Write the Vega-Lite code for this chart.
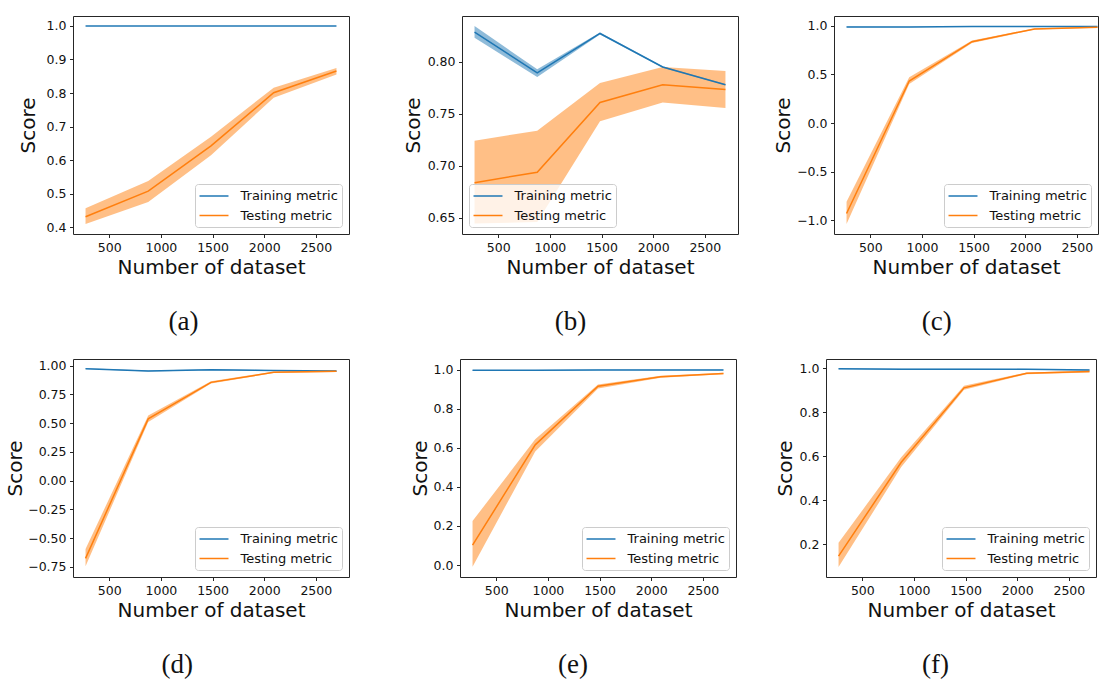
{
  "$schema": "https://vega.github.io/schema/vega-lite/v6.json",
  "background": "white",
  "padding": {"left": 5, "top": 15, "right": 0, "bottom": 0},
  "datasets": {
    "curves": [
      {"panel": "a", "series": "Training metric", "n": 270, "mean": 1.0, "lo": 1.0, "hi": 1.0},
      {"panel": "a", "series": "Training metric", "n": 877, "mean": 1.0, "lo": 1.0, "hi": 1.0},
      {"panel": "a", "series": "Training metric", "n": 1485, "mean": 1.0, "lo": 1.0, "hi": 1.0},
      {"panel": "a", "series": "Training metric", "n": 2092, "mean": 1.0, "lo": 1.0, "hi": 1.0},
      {"panel": "a", "series": "Training metric", "n": 2700, "mean": 1.0, "lo": 1.0, "hi": 1.0},
      {"panel": "a", "series": "Testing metric", "n": 270, "mean": 0.432, "lo": 0.410, "hi": 0.457},
      {"panel": "a", "series": "Testing metric", "n": 877, "mean": 0.508, "lo": 0.476, "hi": 0.538},
      {"panel": "a", "series": "Testing metric", "n": 1485, "mean": 0.643, "lo": 0.615, "hi": 0.670},
      {"panel": "a", "series": "Testing metric", "n": 2092, "mean": 0.801, "lo": 0.786, "hi": 0.816},
      {"panel": "a", "series": "Testing metric", "n": 2700, "mean": 0.866, "lo": 0.855, "hi": 0.875},

      {"panel": "b", "series": "Training metric", "n": 270, "mean": 0.8287, "lo": 0.8232, "hi": 0.8345},
      {"panel": "b", "series": "Training metric", "n": 877, "mean": 0.7894, "lo": 0.7855, "hi": 0.7929},
      {"panel": "b", "series": "Training metric", "n": 1485, "mean": 0.8274, "lo": 0.8265, "hi": 0.8283},
      {"panel": "b", "series": "Training metric", "n": 2092, "mean": 0.7952, "lo": 0.7945, "hi": 0.7959},
      {"panel": "b", "series": "Training metric", "n": 2700, "mean": 0.7781, "lo": 0.7775, "hi": 0.7787},
      {"panel": "b", "series": "Testing metric", "n": 270, "mean": 0.6839, "lo": 0.6445, "hi": 0.7242},
      {"panel": "b", "series": "Testing metric", "n": 877, "mean": 0.6939, "lo": 0.6460, "hi": 0.7339},
      {"panel": "b", "series": "Testing metric", "n": 1485, "mean": 0.7610, "lo": 0.7429, "hi": 0.7797},
      {"panel": "b", "series": "Testing metric", "n": 2092, "mean": 0.7781, "lo": 0.7610, "hi": 0.7952},
      {"panel": "b", "series": "Testing metric", "n": 2700, "mean": 0.7735, "lo": 0.7558, "hi": 0.7913},

      {"panel": "c", "series": "Training metric", "n": 270, "mean": 0.990, "lo": 0.987, "hi": 0.993},
      {"panel": "c", "series": "Training metric", "n": 877, "mean": 0.989, "lo": 0.986, "hi": 0.992},
      {"panel": "c", "series": "Training metric", "n": 1485, "mean": 0.993, "lo": 0.991, "hi": 0.995},
      {"panel": "c", "series": "Training metric", "n": 2092, "mean": 0.994, "lo": 0.992, "hi": 0.996},
      {"panel": "c", "series": "Training metric", "n": 2700, "mean": 0.993, "lo": 0.991, "hi": 0.995},
      {"panel": "c", "series": "Testing metric", "n": 270, "mean": -0.931, "lo": -1.040, "hi": -0.811},
      {"panel": "c", "series": "Testing metric", "n": 877, "mean": 0.433, "lo": 0.402, "hi": 0.471},
      {"panel": "c", "series": "Testing metric", "n": 1485, "mean": 0.838, "lo": 0.825, "hi": 0.850},
      {"panel": "c", "series": "Testing metric", "n": 2092, "mean": 0.969, "lo": 0.962, "hi": 0.976},
      {"panel": "c", "series": "Testing metric", "n": 2700, "mean": 0.986, "lo": 0.982, "hi": 0.990},

      {"panel": "d", "series": "Training metric", "n": 270, "mean": 0.974, "lo": 0.970, "hi": 0.978},
      {"panel": "d", "series": "Training metric", "n": 877, "mean": 0.954, "lo": 0.950, "hi": 0.958},
      {"panel": "d", "series": "Training metric", "n": 1485, "mean": 0.965, "lo": 0.961, "hi": 0.969},
      {"panel": "d", "series": "Training metric", "n": 2092, "mean": 0.957, "lo": 0.953, "hi": 0.961},
      {"panel": "d", "series": "Training metric", "n": 2700, "mean": 0.954, "lo": 0.950, "hi": 0.958},
      {"panel": "d", "series": "Testing metric", "n": 270, "mean": -0.675, "lo": -0.744, "hi": -0.594},
      {"panel": "d", "series": "Testing metric", "n": 877, "mean": 0.538, "lo": 0.510, "hi": 0.567},
      {"panel": "d", "series": "Testing metric", "n": 1485, "mean": 0.855, "lo": 0.845, "hi": 0.865},
      {"panel": "d", "series": "Testing metric", "n": 2092, "mean": 0.942, "lo": 0.936, "hi": 0.948},
      {"panel": "d", "series": "Testing metric", "n": 2700, "mean": 0.951, "lo": 0.946, "hi": 0.956},

      {"panel": "e", "series": "Training metric", "n": 270, "mean": 0.996, "lo": 0.994, "hi": 0.998},
      {"panel": "e", "series": "Training metric", "n": 877, "mean": 0.996, "lo": 0.994, "hi": 0.998},
      {"panel": "e", "series": "Training metric", "n": 1485, "mean": 0.998, "lo": 0.996, "hi": 1.000},
      {"panel": "e", "series": "Training metric", "n": 2092, "mean": 0.998, "lo": 0.996, "hi": 1.000},
      {"panel": "e", "series": "Training metric", "n": 2700, "mean": 0.998, "lo": 0.996, "hi": 1.000},
      {"panel": "e", "series": "Testing metric", "n": 270, "mean": 0.102, "lo": -0.008, "hi": 0.225},
      {"panel": "e", "series": "Testing metric", "n": 877, "mean": 0.615, "lo": 0.581, "hi": 0.644},
      {"panel": "e", "series": "Testing metric", "n": 1485, "mean": 0.915, "lo": 0.903, "hi": 0.924},
      {"panel": "e", "series": "Testing metric", "n": 2092, "mean": 0.963, "lo": 0.958, "hi": 0.968},
      {"panel": "e", "series": "Testing metric", "n": 2700, "mean": 0.980, "lo": 0.976, "hi": 0.984},

      {"panel": "f", "series": "Training metric", "n": 270, "mean": 0.998, "lo": 0.996, "hi": 1.000},
      {"panel": "f", "series": "Training metric", "n": 877, "mean": 0.996, "lo": 0.994, "hi": 0.998},
      {"panel": "f", "series": "Training metric", "n": 1485, "mean": 0.996, "lo": 0.994, "hi": 0.998},
      {"panel": "f", "series": "Training metric", "n": 2092, "mean": 0.995, "lo": 0.993, "hi": 0.997},
      {"panel": "f", "series": "Training metric", "n": 2700, "mean": 0.992, "lo": 0.990, "hi": 0.994},
      {"panel": "f", "series": "Testing metric", "n": 270, "mean": 0.147, "lo": 0.097, "hi": 0.207},
      {"panel": "f", "series": "Testing metric", "n": 877, "mean": 0.573, "lo": 0.551, "hi": 0.596},
      {"panel": "f", "series": "Testing metric", "n": 1485, "mean": 0.911, "lo": 0.902, "hi": 0.921},
      {"panel": "f", "series": "Testing metric", "n": 2092, "mean": 0.977, "lo": 0.973, "hi": 0.981},
      {"panel": "f", "series": "Testing metric", "n": 2700, "mean": 0.985, "lo": 0.981, "hi": 0.989}
    ]
  },
  "columns": 1,
  "align": "none",
  "spacing": 22,
  "resolve": {"scale": {"x": "independent", "y": "independent", "fill": "independent", "stroke": "independent"}, "legend": {"stroke": "independent", "fill": "independent"}},
  "concat": [
    {
      "spacing": 52,
      "resolve": {"scale": {"x": "independent", "y": "independent", "fill": "independent", "stroke": "independent"}, "legend": {"stroke": "independent", "fill": "independent"}},
      "hconcat": [
        {
          "width": 276, "height": 218,
          "title": {"text": "(a)"},
          "data": {"name": "curves"},
          "transform": [{"filter": "datum.panel === 'a'"}],
          "encoding": {"x": {"field": "n", "type": "quantitative", "scale": {"domain": [148.5, 2821.5], "nice": false, "zero": false}, "axis": {"values": [500, 1000, 1500, 2000, 2500], "format": "d", "title": "Number of dataset"}}},
          "layer": [
            {"mark": {"type": "area", "opacity": 0.5}, "encoding": {"y": {"field": "lo", "type": "quantitative", "scale": {"domain": [0.3805, 1.0295], "nice": false, "zero": false}, "axis": {"values": [0.4, 0.5, 0.6, 0.7, 0.8, 0.9, 1.0], "format": ".1f", "title": "Score", "titlePadding": 8}}, "y2": {"field": "hi"}, "fill": {"field": "series", "type": "nominal", "scale": {"domain": ["Testing metric", "Training metric"], "range": ["#ff7f0e", "#1f77b4"]}, "legend": null}}},
            {"mark": {"type": "line", "strokeWidth": 1.5}, "encoding": {"y": {"field": "mean", "type": "quantitative", "axis": {"values": [0.4, 0.5, 0.6, 0.7, 0.8, 0.9, 1.0], "format": ".1f", "title": "Score", "titlePadding": 8}}, "stroke": {"field": "series", "type": "nominal", "scale": {"domain": ["Training metric", "Testing metric"], "range": ["#1f77b4", "#ff7f0e"]}, "legend": {"title": null, "orient": "bottom-right"}}}}
          ]
        },
        {
          "spacing": 33,
          "resolve": {"scale": {"x": "independent", "y": "independent", "fill": "independent", "stroke": "independent"}, "legend": {"stroke": "independent", "fill": "independent"}},
          "hconcat": [
            {
              "width": 276, "height": 218,
              "title": {"text": "(b)"},
              "data": {"name": "curves"},
              "transform": [{"filter": "datum.panel === 'b'"}],
              "encoding": {"x": {"field": "n", "type": "quantitative", "scale": {"domain": [148.5, 2821.5], "nice": false, "zero": false}, "axis": {"values": [500, 1000, 1500, 2000, 2500], "format": "d", "title": "Number of dataset"}}},
              "layer": [
                {"mark": {"type": "area", "opacity": 0.5}, "encoding": {"y": {"field": "lo", "type": "quantitative", "scale": {"domain": [0.6345, 0.8442], "nice": false, "zero": false}, "axis": {"values": [0.65, 0.7, 0.75, 0.8], "format": ".2f", "title": "Score", "titlePadding": 4}}, "y2": {"field": "hi"}, "fill": {"field": "series", "type": "nominal", "scale": {"domain": ["Testing metric", "Training metric"], "range": ["#ff7f0e", "#1f77b4"]}, "legend": null}}},
                {"mark": {"type": "line", "strokeWidth": 1.5}, "encoding": {"y": {"field": "mean", "type": "quantitative", "axis": {"values": [0.65, 0.7, 0.75, 0.8], "format": ".2f", "title": "Score", "titlePadding": 4}}, "stroke": {"field": "series", "type": "nominal", "scale": {"domain": ["Training metric", "Testing metric"], "range": ["#1f77b4", "#ff7f0e"]}, "legend": {"title": null, "orient": "bottom-left"}}}}
              ]
            },
            {
              "width": 264, "height": 218,
              "title": {"text": "(c)"},
              "data": {"name": "curves"},
              "transform": [{"filter": "datum.panel === 'c'"}],
              "encoding": {"x": {"field": "n", "type": "quantitative", "scale": {"domain": [148.5, 2705], "nice": false, "zero": false}, "axis": {"values": [500, 1000, 1500, 2000, 2500], "format": "d", "title": "Number of dataset"}}},
              "layer": [
                {"mark": {"type": "area", "opacity": 0.5}, "encoding": {"y": {"field": "lo", "type": "quantitative", "scale": {"domain": [-1.142, 1.102], "nice": false, "zero": false}, "axis": {"values": [-1.0, -0.5, 0.0, 0.5, 1.0], "format": ".1f", "title": "Score", "titlePadding": 3.5}}, "y2": {"field": "hi"}, "fill": {"field": "series", "type": "nominal", "scale": {"domain": ["Testing metric", "Training metric"], "range": ["#ff7f0e", "#1f77b4"]}, "legend": null}}},
                {"mark": {"type": "line", "strokeWidth": 1.5}, "encoding": {"y": {"field": "mean", "type": "quantitative", "axis": {"values": [-1.0, -0.5, 0.0, 0.5, 1.0], "format": ".1f", "title": "Score", "titlePadding": 3.5}}, "stroke": {"field": "series", "type": "nominal", "scale": {"domain": ["Training metric", "Testing metric"], "range": ["#1f77b4", "#ff7f0e"]}, "legend": {"title": null, "orient": "bottom-right"}}}}
              ]
            }
          ]
        }
      ]
    },
    {
      "spacing": 59,
      "resolve": {"scale": {"x": "independent", "y": "independent", "fill": "independent", "stroke": "independent"}, "legend": {"stroke": "independent", "fill": "independent"}},
      "hconcat": [
        {
          "width": 276, "height": 218,
          "title": {"text": "(d)"},
          "data": {"name": "curves"},
          "transform": [{"filter": "datum.panel === 'd'"}],
          "encoding": {"x": {"field": "n", "type": "quantitative", "scale": {"domain": [148.5, 2821.5], "nice": false, "zero": false}, "axis": {"values": [500, 1000, 1500, 2000, 2500], "format": "d", "title": "Number of dataset"}}},
          "layer": [
            {"mark": {"type": "area", "opacity": 0.5}, "encoding": {"y": {"field": "lo", "type": "quantitative", "scale": {"domain": [-0.837, 1.058], "nice": false, "zero": false}, "axis": {"values": [-0.75, -0.5, -0.25, 0.0, 0.25, 0.5, 0.75, 1.0], "format": ".2f", "title": "Score", "titlePadding": 2}}, "y2": {"field": "hi"}, "fill": {"field": "series", "type": "nominal", "scale": {"domain": ["Testing metric", "Training metric"], "range": ["#ff7f0e", "#1f77b4"]}, "legend": null}}},
            {"mark": {"type": "line", "strokeWidth": 1.5}, "encoding": {"y": {"field": "mean", "type": "quantitative", "axis": {"values": [-0.75, -0.5, -0.25, 0.0, 0.25, 0.5, 0.75, 1.0], "format": ".2f", "title": "Score", "titlePadding": 2}}, "stroke": {"field": "series", "type": "nominal", "scale": {"domain": ["Training metric", "Testing metric"], "range": ["#1f77b4", "#ff7f0e"]}, "legend": {"title": null, "orient": "bottom-right"}}}}
          ]
        },
        {
          "spacing": 37,
          "resolve": {"scale": {"x": "independent", "y": "independent", "fill": "independent", "stroke": "independent"}, "legend": {"stroke": "independent", "fill": "independent"}},
          "hconcat": [
            {
              "width": 276, "height": 218,
              "title": {"text": "(e)"},
              "data": {"name": "curves"},
              "transform": [{"filter": "datum.panel === 'e'"}],
              "encoding": {"x": {"field": "n", "type": "quantitative", "scale": {"domain": [148.5, 2821.5], "nice": false, "zero": false}, "axis": {"values": [500, 1000, 1500, 2000, 2500], "format": "d", "title": "Number of dataset"}}},
              "layer": [
                {"mark": {"type": "area", "opacity": 0.5}, "encoding": {"y": {"field": "lo", "type": "quantitative", "scale": {"domain": [-0.061, 1.054], "nice": false, "zero": false}, "axis": {"values": [0.0, 0.2, 0.4, 0.6, 0.8, 1.0], "format": ".1f", "title": "Score", "titlePadding": 3}}, "y2": {"field": "hi"}, "fill": {"field": "series", "type": "nominal", "scale": {"domain": ["Testing metric", "Training metric"], "range": ["#ff7f0e", "#1f77b4"]}, "legend": null}}},
                {"mark": {"type": "line", "strokeWidth": 1.5}, "encoding": {"y": {"field": "mean", "type": "quantitative", "axis": {"values": [0.0, 0.2, 0.4, 0.6, 0.8, 1.0], "format": ".1f", "title": "Score", "titlePadding": 3}}, "stroke": {"field": "series", "type": "nominal", "scale": {"domain": ["Training metric", "Testing metric"], "range": ["#1f77b4", "#ff7f0e"]}, "legend": {"title": null, "orient": "bottom-right"}}}}
              ]
            },
            {
              "width": 270, "height": 218,
              "title": {"text": "(f)"},
              "data": {"name": "curves"},
              "transform": [{"filter": "datum.panel === 'f'"}],
              "encoding": {"x": {"field": "n", "type": "quantitative", "scale": {"domain": [148.5, 2763], "nice": false, "zero": false}, "axis": {"values": [500, 1000, 1500, 2000, 2500], "format": "d", "title": "Number of dataset"}}},
              "layer": [
                {"mark": {"type": "area", "opacity": 0.5}, "encoding": {"y": {"field": "lo", "type": "quantitative", "scale": {"domain": [0.052, 1.042], "nice": false, "zero": false}, "axis": {"values": [0.2, 0.4, 0.6, 0.8, 1.0], "format": ".1f", "title": "Score", "titlePadding": 4}}, "y2": {"field": "hi"}, "fill": {"field": "series", "type": "nominal", "scale": {"domain": ["Testing metric", "Training metric"], "range": ["#ff7f0e", "#1f77b4"]}, "legend": null}}},
                {"mark": {"type": "line", "strokeWidth": 1.5}, "encoding": {"y": {"field": "mean", "type": "quantitative", "axis": {"values": [0.2, 0.4, 0.6, 0.8, 1.0], "format": ".1f", "title": "Score", "titlePadding": 4}}, "stroke": {"field": "series", "type": "nominal", "scale": {"domain": ["Training metric", "Testing metric"], "range": ["#1f77b4", "#ff7f0e"]}, "legend": {"title": null, "orient": "bottom-right"}}}}
              ]
            }
          ]
        }
      ]
    }
  ],
  "config": {
    "font": "DejaVu Sans",
    "view": {"stroke": "#262626", "strokeWidth": 1},
    "axis": {"domain": false, "grid": false, "labelFont": "DejaVu Sans", "labelFontSize": 12.5, "labelColor": "#111111", "tickColor": "#262626", "tickSize": 3.5, "tickWidth": 1, "labelPadding": 3.5, "titleFont": "DejaVu Sans", "titleFontSize": 20, "titleFontWeight": "normal", "titleColor": "#111111"},
    "axisX": {"titlePadding": 3, "labelPadding": 4},
    "legend": {"offset": 7, "padding": 4, "fillColor": "rgba(255,255,255,0.8)", "strokeColor": "#cccccc", "cornerRadius": 3, "labelFont": "DejaVu Sans", "labelFontSize": 13, "labelColor": "#111111", "symbolType": "M-2,0H2", "symbolSize": 210, "symbolOffset": 7, "symbolStrokeWidth": 1.5, "symbolOpacity": 1, "rowPadding": 4.5, "labelOffset": 18.5},
    "title": {"orient": "bottom", "frame": "bounds", "font": "Liberation Serif", "fontSize": 27, "fontWeight": "normal", "color": "#111111", "offset": 32}
  }
}
